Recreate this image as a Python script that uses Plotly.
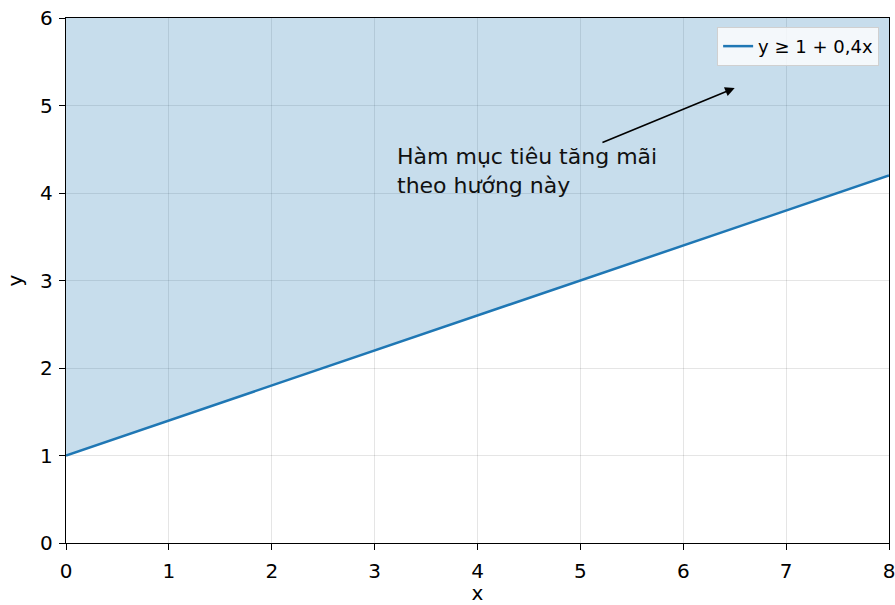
import plotly.graph_objects as go

# Data
line_x = [0, 8]
line_y = [1.0, 4.2]          # y = 1 + 0,4x at x=0 and x=8
top_y = [6, 6]               # upper edge of feasible region shown
x_ticks = [0, 1, 2, 3, 4, 5, 6, 7, 8]
y_ticks = [0, 1, 2, 3, 4, 5, 6]
legend_label = "y ≥ 1 + 0,4x"
note_text = "Hàm mục tiêu tăng mãi<br>theo hướng này"
arrow_tail = (5.2, 4.57)
arrow_head = (6.5, 5.2)
note_pos = (3.2, 4.58)

BLUE = "#1f77b4"
FONT = "DejaVu Sans"

fig = go.Figure()
fig.add_trace(go.Scatter(x=line_x, y=top_y, mode="lines",
                         line=dict(width=0), showlegend=False, hoverinfo="skip"))
fig.add_trace(go.Scatter(x=line_x, y=line_y, mode="lines", fill="tonexty",
                         fillcolor="rgba(31,119,180,0.25)",
                         line=dict(width=0), showlegend=False, hoverinfo="skip"))
fig.add_trace(go.Scatter(x=line_x, y=line_y, mode="lines",
                         line=dict(color=BLUE, width=2.5), name=legend_label))

fig.add_annotation(x=arrow_head[0], y=arrow_head[1], ax=arrow_tail[0], ay=arrow_tail[1],
                   xref="x", yref="y", axref="x", ayref="y", text="",
                   showarrow=True, arrowhead=2, arrowsize=1.2, arrowwidth=1.6,
                   arrowcolor="black", standoff=0)
fig.add_annotation(x=note_pos[0], y=note_pos[1], xref="x", yref="y",
                   text=note_text, showarrow=False, xanchor="left", yanchor="top",
                   align="left", font=dict(family=FONT, size=22, color="#111"))

axis_common = dict(showline=True, linecolor="black", linewidth=1.3, mirror=True,
                   ticks="outside", ticklen=6, tickwidth=1.2, tickcolor="black",
                   showgrid=True, gridcolor="rgba(0,0,0,0.1)", gridwidth=1,
                   zeroline=False, automargin=False, ticklabeloverflow="allow",
                   tickfont=dict(family=FONT, size=20, color="black"))

fig.update_xaxes(range=[0, 8], tickvals=x_ticks, ticklabelstandoff=4, **axis_common,
                 title=dict(text="x", font=dict(family=FONT, size=20, color="black"), standoff=8))
fig.update_yaxes(range=[0, 6], tickvals=y_ticks, ticklabelstandoff=2, **axis_common,
                 title=dict(text="y", font=dict(family=FONT, size=20, color="black"), standoff=12))

fig.update_layout(
    width=895, height=605,
    margin=dict(l=66, r=6, t=18, b=62),
    plot_bgcolor="white", paper_bgcolor="white",
    font=dict(family=FONT),
    legend=dict(x=0.988, y=0.983, xanchor="right", yanchor="top",
                bgcolor="rgba(255,255,255,0.8)", bordercolor="#d0d0d0", borderwidth=1,
                font=dict(family=FONT, size=18, color="black")),
)

fig.write_html("out.html", config={"displayModeBar": False},
               post_script="document.body.style.margin='0';document.body.style.overflow='hidden';")
